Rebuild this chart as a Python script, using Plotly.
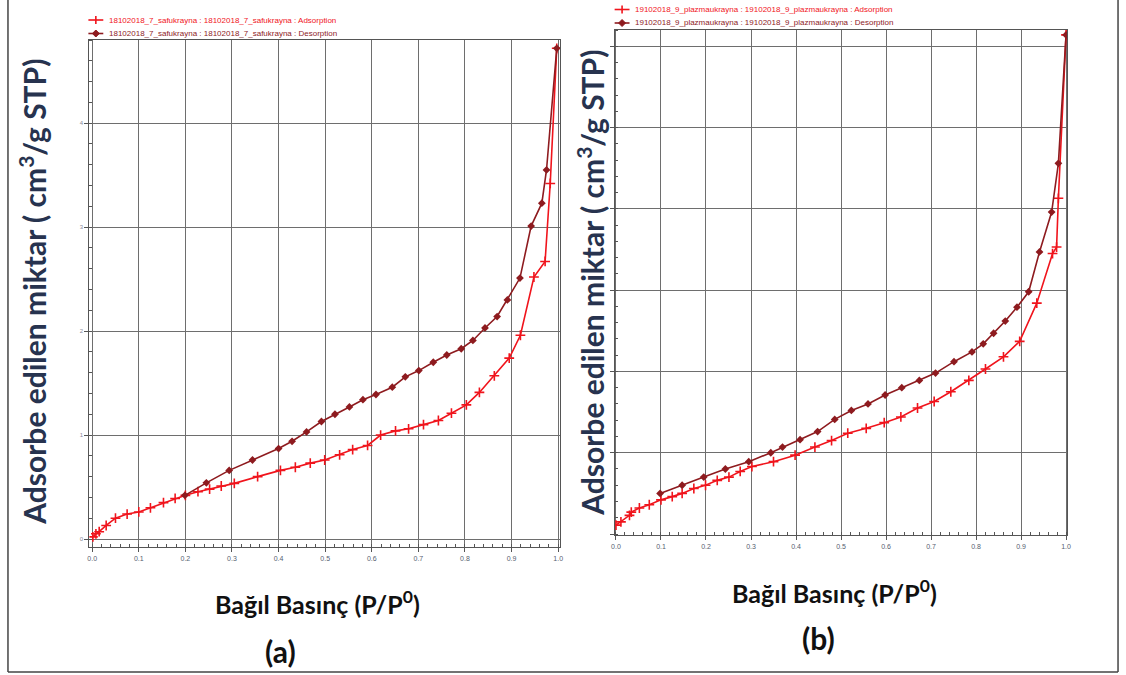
import plotly.graph_objects as go

W, H = 1126, 675

# ---------------- data: panel (a) ----------------
a_ads_x = [0.0015, 0.008, 0.015, 0.03, 0.05, 0.075, 0.10, 0.125, 0.153, 0.178, 0.20, 0.227,
           0.252, 0.277, 0.305, 0.355, 0.404, 0.436, 0.468, 0.499, 0.531, 0.559, 0.591,
           0.619, 0.651, 0.679, 0.711, 0.743, 0.771, 0.803, 0.831, 0.863, 0.895, 0.919,
           0.948, 0.972, 0.983, 0.997]
a_ads_y = [0.02, 0.05, 0.07, 0.13, 0.20, 0.24, 0.26, 0.30, 0.35, 0.39, 0.42, 0.455,
           0.48, 0.51, 0.535, 0.60, 0.66, 0.69, 0.73, 0.76, 0.81, 0.86, 0.90,
           1.00, 1.04, 1.06, 1.10, 1.14, 1.21, 1.29, 1.41, 1.57, 1.74, 1.96,
           2.52, 2.67, 3.42, 4.72]
a_des_x = [0.997, 0.975, 0.965, 0.942, 0.918, 0.891, 0.869, 0.843, 0.817, 0.792, 0.761,
           0.732, 0.701, 0.672, 0.644, 0.609, 0.581, 0.552, 0.521, 0.492, 0.460, 0.429,
           0.400, 0.344, 0.294, 0.245, 0.199]
a_des_y = [4.72, 3.55, 3.23, 3.01, 2.51, 2.30, 2.14, 2.03, 1.91, 1.83, 1.77,
           1.70, 1.62, 1.56, 1.46, 1.39, 1.34, 1.27, 1.20, 1.13, 1.03, 0.94,
           0.87, 0.76, 0.66, 0.54, 0.42]

# ---------------- data: panel (b) ----------------
b_ads_x = [0.0, 0.011, 0.030, 0.034, 0.052, 0.074, 0.10, 0.125, 0.147, 0.173, 0.199, 0.225,
           0.251, 0.276, 0.302, 0.350, 0.398, 0.442, 0.479, 0.515, 0.556, 0.596, 0.633,
           0.670, 0.707, 0.744, 0.784, 0.821, 0.861, 0.897, 0.935, 0.970, 0.979, 0.983, 1.0]
b_ads_y = [0.11, 0.15, 0.23, 0.27, 0.32, 0.36, 0.42, 0.46, 0.50, 0.56, 0.60, 0.66,
           0.70, 0.77, 0.83, 0.89, 0.97, 1.07, 1.15, 1.24, 1.30, 1.37, 1.44,
           1.55, 1.63, 1.75, 1.89, 2.03, 2.18, 2.37, 2.84, 3.45, 3.53, 4.13, 6.14]
b_des_x = [1.0, 0.983, 0.968, 0.941, 0.917, 0.891, 0.865, 0.839, 0.816, 0.791, 0.751,
           0.710, 0.674, 0.635, 0.598, 0.560, 0.523, 0.486, 0.448, 0.409, 0.370, 0.344,
           0.295, 0.243, 0.195, 0.147, 0.098]
b_des_y = [6.14, 4.56, 3.96, 3.47, 2.98, 2.79, 2.62, 2.47, 2.34, 2.24, 2.12,
           1.98, 1.89, 1.80, 1.71, 1.60, 1.52, 1.41, 1.26, 1.16, 1.07, 1.00,
           0.89, 0.80, 0.70, 0.60, 0.50]

x_tickvals = [0.0, 0.1, 0.2, 0.3, 0.4, 0.5, 0.6, 0.7, 0.8, 0.9, 1.0]
x_ticktext = ["0.0", "0.1", "0.2", "0.3", "0.4", "0.5", "0.6", "0.7", "0.8", "0.9", "1.0"]
a_y_tickvals = [0, 1, 2, 3, 4]
a_y_ticktext = ["0", "1", "2", "3", "4"]
b_y_tickvals = [0, 1, 2, 3, 4, 5, 6]

a_ads_name = "18102018_7_safukrayna : 18102018_7_safukrayna : Adsorption"
a_des_name = "18102018_7_safukrayna : 18102018_7_safukrayna : Desorption"
b_ads_name = "19102018_9_plazmaukrayna : 19102018_9_plazmaukrayna : Adsorption"
b_des_name = "19102018_9_plazmaukrayna : 19102018_9_plazmaukrayna : Desorption"

ADS = "#f0141c"
DES = "#8e1b1f"


def px_x(p):
    return p / W


def px_y(p):
    return 1 - p / H


fig = go.Figure()


def add_pair(xa, ya, xd, yd, na, nd, xax, yax):
    fig.add_trace(go.Scatter(
        x=xa, y=ya, name=na, mode="lines+markers", showlegend=False,
        line=dict(color=ADS, width=1.6),
        marker=dict(symbol="cross-thin", size=7, color=ADS, line=dict(color=ADS, width=1.6)),
        xaxis=xax, yaxis=yax))
    fig.add_trace(go.Scatter(
        x=xd, y=yd, name=nd, mode="lines+markers", showlegend=False,
        line=dict(color=DES, width=1.6),
        marker=dict(symbol="diamond", size=6, color=DES),
        xaxis=xax, yaxis=yax))


add_pair(a_ads_x, a_ads_y, a_des_x, a_des_y, a_ads_name, a_des_name, "x", "y")
add_pair(b_ads_x, b_ads_y, b_des_x, b_des_y, b_ads_name, b_des_name, "x2", "y2")

grid_col = "#6e6e6e"
axis_common = dict(showline=True, linecolor="#555555", linewidth=1.2, mirror=True,
                   showgrid=True, gridcolor=grid_col, gridwidth=1, zeroline=False,
                   ticks="outside", ticklen=4, tickcolor="#555555")

fig.update_layout(
    width=W, height=H, margin=dict(l=0, r=0, t=0, b=0), showlegend=False,
    paper_bgcolor="white", plot_bgcolor="white",
    font=dict(family="Liberation Sans, Arial, sans-serif"),
    xaxis=dict(domain=[px_x(86), px_x(560)], range=[-0.006, 1.004], anchor="y",
               tickvals=x_tickvals, ticktext=x_ticktext,
               tickfont=dict(size=7, color="#556070"),
               minor=dict(dtick=0.02, tick0=0, ticks="inside", ticklen=3, tickcolor="#555555", showgrid=False),
               **axis_common),
    yaxis=dict(domain=[px_y(547), px_y(40)], range=[-0.077, 4.80], anchor="x",
               tickvals=a_y_tickvals, ticktext=a_y_ticktext,
               tickfont=dict(size=6, color="#8a8a9a"),
               minor=dict(dtick=0.2, tick0=0, ticks="inside", ticklen=3, tickcolor="#555555", showgrid=False),
               **axis_common),
    xaxis2=dict(domain=[px_x(615), px_x(1071)], range=[-0.003, 1.003], anchor="y2",
                tickvals=x_tickvals, ticktext=x_ticktext,
                tickfont=dict(size=7, color="#556070"),
                minor=dict(dtick=0.02, tick0=0, ticks="inside", ticklen=3, tickcolor="#555555", showgrid=False),
                **axis_common),
    yaxis2=dict(domain=[px_y(535), px_y(30)], range=[-0.012, 6.2], anchor="x2",
                tickvals=b_y_tickvals, showticklabels=False,
                minor=dict(dtick=0.2, tick0=0, ticks="inside", ticklen=3, tickcolor="#555555", showgrid=False),
                **axis_common),
)

title_font = dict(family="Lato, Open Sans, sans-serif", size=30, color="#27334f")
xt_font = dict(family="Lato, Open Sans, sans-serif", size=25, color="#111111")
lab_font = dict(family="Lato, Open Sans, sans-serif", size=30, color="#111111")
ytitle = "<b>Adsorbe edilen miktar ( cm<sup>3</sup>/g STP)</b>"
xtitle = "<b>Bağıl Basınç (P/P<sup>0</sup>)</b>"

annotations = [
    dict(text=ytitle, x=px_x(29), y=px_y(292), textangle=-90, font=title_font),
    dict(text=ytitle, x=px_x(591), y=px_y(283), textangle=-90, font=title_font),
    dict(text=xtitle, x=px_x(316), y=px_y(602), font=xt_font),
    dict(text=xtitle, x=px_x(836), y=px_y(591), font=xt_font),
    dict(text="<b>(a)</b>", x=px_x(278), y=px_y(651), font=lab_font),
    dict(text="<b>(b)</b>", x=px_x(820), y=px_y(638), font=lab_font),
]
for a in annotations:
    a.update(xanchor="center")

# ---- legends (symbol shapes + text), one per panel ----
legend_rows = [
    (85, 20, a_ads_name, ADS, "cross"),
    (85, 33.5, a_des_name, DES, "diamond"),
    (615, 9.5, b_ads_name, ADS, "cross"),
    (615, 23, b_des_name, DES, "diamond"),
]
shapes = []
for lx, ly, name, col, sym in legend_rows:
    shapes.append(dict(type="line", x0=px_x(lx), x1=px_x(lx + 15), y0=px_y(ly), y1=px_y(ly),
                       line=dict(color=col, width=1.6)))
    cx = lx + 7.5
    if sym == "cross":
        shapes.append(dict(type="line", x0=px_x(cx), x1=px_x(cx), y0=px_y(ly - 4), y1=px_y(ly + 4),
                           line=dict(color=col, width=1.6)))
    else:
        path = (f"M {px_x(cx - 3.5)} {px_y(ly)} L {px_x(cx)} {px_y(ly - 3.5)} "
                f"L {px_x(cx + 3.5)} {px_y(ly)} L {px_x(cx)} {px_y(ly + 3.5)} Z")
        shapes.append(dict(type="path", path=path, fillcolor=col, line=dict(color=col, width=1)))
    annotations.append(dict(text=name, x=px_x(lx + 19), y=px_y(ly), xanchor="left",
                            font=dict(size=8, color=col, family="Liberation Sans, Arial, sans-serif")))

for a in annotations:
    a.update(xref="paper", yref="paper", showarrow=False, yanchor="middle")

# outer frame (left, bottom, right)
frame_line = dict(color="#444444", width=1.5)
shapes += [
    dict(type="line", x0=px_x(4), x1=px_x(4), y0=px_y(672), y1=1, line=frame_line),
    dict(type="line", x0=px_x(4), x1=px_x(1122), y0=px_y(672), y1=px_y(672), line=frame_line),
    dict(type="line", x0=px_x(1122), x1=px_x(1122), y0=px_y(672), y1=1, line=frame_line),
]
for s in shapes:
    s.update(xref="paper", yref="paper")

fig.update_layout(annotations=annotations, shapes=shapes)

fig.write_html("out.html", config={"displayModeBar": False},
               post_script="document.body.style.margin='0px';")
